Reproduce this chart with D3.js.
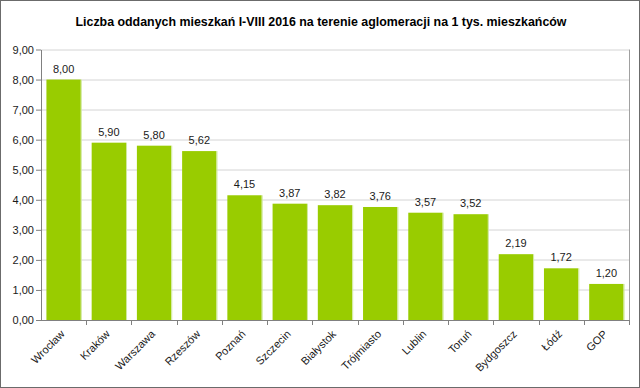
<!DOCTYPE html>
<html lang="pl">
<head>
<meta charset="UTF-8">
<title>Liczba oddanych mieszkań</title>
<style>
  html, body { margin: 0; padding: 0; background: #fff; }
  svg { display: block; font-family: "Liberation Sans", Arial, sans-serif; }
</style>
</head>
<body>
<div id="chart"></div>
<script src="https://d3js.org/d3.v7.min.js"></script>
<script>
const title = "Liczba oddanych mieszkań I-VIII 2016 na terenie aglomeracji na 1 tys. mieszkańców";
const cities = ["Wrocław", "Kraków", "Warszawa", "Rzeszów", "Poznań", "Szczecin", "Białystok",
                "Trójmiasto", "Lublin", "Toruń", "Bydgoszcz", "Łódź", "GOP"];
const values = [8.00, 5.90, 5.80, 5.62, 4.15, 3.87, 3.82, 3.76, 3.57, 3.52, 2.19, 1.72, 1.20];
const yTicks = [0, 1, 2, 3, 4, 5, 6, 7, 8, 9];

const W = 640, H = 388;
const margin = { top: 49.5, right: 11, bottom: 68, left: 41 };
const width = W - margin.left - margin.right;
const height = H - margin.top - margin.bottom;

const fmt = v => v.toFixed(2).replace(".", ",");

const svg = d3.select("#chart").append("svg")
    .attr("width", W).attr("height", H);

// outer frame
svg.append("rect")
    .attr("x", 0.5).attr("y", 0.5)
    .attr("width", W - 1).attr("height", H - 1)
    .attr("fill", "#fff").attr("stroke", "#6b6b6b");

svg.append("text")
    .attr("x", 321).attr("y", 26)
    .attr("text-anchor", "middle")
    .attr("font-size", 12.4).attr("font-weight", "bold")
    .attr("fill", "#000")
    .text(title);

const g = svg.append("g").attr("transform", `translate(${margin.left},${margin.top})`);

const x = d3.scaleBand().domain(cities).range([0, width]).paddingInner(0.24).paddingOuter(0.12);
const y = d3.scaleLinear().domain([0, 9]).range([height, 0]);

// gridlines
g.append("g").selectAll("line").data(yTicks.slice(1)).join("line")
    .attr("x1", 0).attr("x2", width)
    .attr("y1", d => Math.round(y(d)) + 0.5).attr("y2", d => Math.round(y(d)) + 0.5)
    .attr("stroke", "#d4d4d4");

// right border of plot
g.append("line")
    .attr("x1", width + 0.5).attr("x2", width + 0.5)
    .attr("y1", Math.round(y(9))).attr("y2", height)
    .attr("stroke", "#a0a0a0");

// bars
g.append("g").selectAll("rect").data(values).join("rect")
    .attr("x", (d, i) => x(cities[i]))
    .attr("y", d => y(d))
    .attr("width", x.bandwidth())
    .attr("height", d => height - y(d))
    .attr("fill", "#99cc00");

g.append("g").selectAll("line").data(values).join("line")
    .attr("x1", (d, i) => x(cities[i]) + x.bandwidth() + 0.5)
    .attr("x2", (d, i) => x(cities[i]) + x.bandwidth() + 0.5)
    .attr("y1", d => y(d)).attr("y2", height)
    .attr("stroke", "#cfe89a");

// value labels
g.append("g").selectAll("text").data(values).join("text")
    .attr("x", (d, i) => x(cities[i]) + x.bandwidth() / 2)
    .attr("y", d => y(d) - 7)
    .attr("text-anchor", "middle")
    .attr("font-size", 11)
    .attr("fill", "#1a1a1a")
    .text(d => fmt(d));

// y axis
const yAxis = g.append("g")
    .call(d3.axisLeft(y).tickValues(yTicks).tickFormat(fmt).tickSize(5).tickSizeOuter(0));
yAxis.select(".domain").attr("stroke", "#808080");
yAxis.selectAll(".tick line").attr("stroke", "#808080");
yAxis.selectAll(".tick text").attr("font-size", 11).attr("fill", "#1a1a1a")
    .attr("font-family", "Liberation Sans, Arial, sans-serif").attr("x", -7);

// x axis with ticks between categories
const xAxis = g.append("g").attr("transform", `translate(0,${height})`);
xAxis.append("line").attr("x1", 0).attr("x2", width + 0.5)
    .attr("y1", 0.5).attr("y2", 0.5).attr("stroke", "#808080");
const boundaries = d3.range(cities.length + 1).map(i => i * width / cities.length);
xAxis.selectAll("line.tk").data(boundaries.slice(1)).join("line")
    .attr("class", "tk")
    .attr("x1", d => Math.round(d) + 0.5).attr("x2", d => Math.round(d) + 0.5)
    .attr("y1", 0).attr("y2", 5)
    .attr("stroke", "#808080");

xAxis.selectAll("text").data(cities).join("text")
    .attr("transform", d => `translate(${x(d) + x.bandwidth() / 2 - 1},${12}) rotate(-45)`)
    .attr("text-anchor", "end")
    .attr("font-size", 11)
    .attr("fill", "#1a1a1a")
    .attr("dy", "0.35em")
    .text(d => d);
</script>
</body>
</html>
